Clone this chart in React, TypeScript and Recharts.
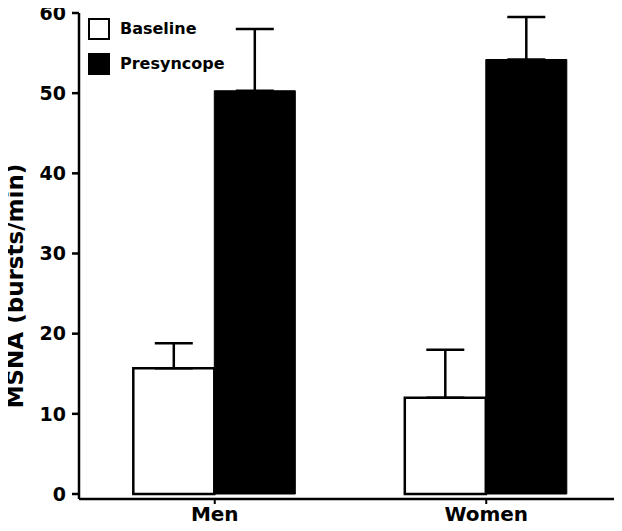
import React from 'react';
import { BarChart, Bar, XAxis, YAxis, ErrorBar, Label } from 'recharts';

const groups = ['Men', 'Women'];
const baseline = [15.7, 12.0];
const baselineErr = [3.1, 6.0];
const presyncope = [50.3, 54.2];
const presyncopeErr = [7.7, 5.3];
const yTicks = [0, 10, 20, 30, 40, 50, 60];
const legendItems = [
  { label: 'Baseline', fill: '#fff' },
  { label: 'Presyncope', fill: '#000' },
];

const data = groups.map((g, i) => ({
  name: g,
  baseline: baseline[i],
  baseErr: [0, baselineErr[i]],
  presyncope: presyncope[i],
  presErr: [0, presyncopeErr[i]],
}));

const FONT = '"DejaVu Sans", Verdana, sans-serif';

// y-axis title, sits a little below the plot's middle like the original
const YTitle = ({ viewBox }: any) => {
  const cx = 15;
  const cy = viewBox.y + viewBox.height / 2 + 30;
  return (
    <text
      x={cx}
      y={cy}
      transform={`rotate(-90, ${cx}, ${cy})`}
      textAnchor="middle"
      dominantBaseline="central"
      style={{ fill: '#000', fontSize: 23, fontWeight: 700, fontFamily: FONT }}
    >
      MSNA (bursts/min)
    </text>
  );
};

export default function App() {
  return (
    <div style={{ position: 'relative', width: 622, height: 531, margin: -8 }}>
      <BarChart
        width={622}
        height={531}
        data={data}
        margin={{ top: 13, right: 0, left: 0, bottom: 0 }}
        barCategoryGap="20%"
        barGap={0}
      >
        <XAxis
          dataKey="name"
          height={32}
          axisLine={{ stroke: '#000', strokeWidth: 2.5 }}
          tickLine={{ stroke: '#000', strokeWidth: 2 }}
          tickSize={5}
          tickMargin={3}
          tick={{ fill: '#000', fontSize: 20, fontWeight: 700, fontFamily: FONT }}
        />
        <YAxis
          width={79}
          domain={[0, 60]}
          ticks={yTicks}
          interval={0}
          padding={{ bottom: 5 }}
          axisLine={{ stroke: '#000', strokeWidth: 2.5 }}
          tickLine={{ stroke: '#000', strokeWidth: 2.5 }}
          tickSize={7}
          tickMargin={6}
          tick={{ fill: '#000', fontSize: 19, fontWeight: 700, fontFamily: FONT }}
        >
          <Label content={<YTitle />} />
        </YAxis>
        <Bar dataKey="baseline" fill="#fff" stroke="#000" strokeWidth={2.5} isAnimationActive={false}>
          <ErrorBar dataKey="baseErr" width={19} stroke="#000" strokeWidth={2.5} direction="y" />
        </Bar>
        <Bar dataKey="presyncope" fill="#000" stroke="#000" strokeWidth={1} isAnimationActive={false}>
          <ErrorBar dataKey="presErr" width={19} stroke="#000" strokeWidth={2.5} direction="y" />
        </Bar>
      </BarChart>
      <div
        style={{
          position: 'absolute',
          left: 88,
          top: 11,
          fontFamily: FONT,
          fontWeight: 700,
          fontSize: 16,
          color: '#000',
        }}
      >
        {legendItems.map((it) => (
          <div key={it.label} style={{ display: 'flex', alignItems: 'center', height: 35 }}>
            <span
              style={{
                display: 'inline-block',
                width: 18,
                height: 18,
                background: it.fill,
                border: '2px solid #000',
                marginRight: 10,
              }}
            />
            <span>{it.label}</span>
          </div>
        ))}
      </div>
    </div>
  );
}
